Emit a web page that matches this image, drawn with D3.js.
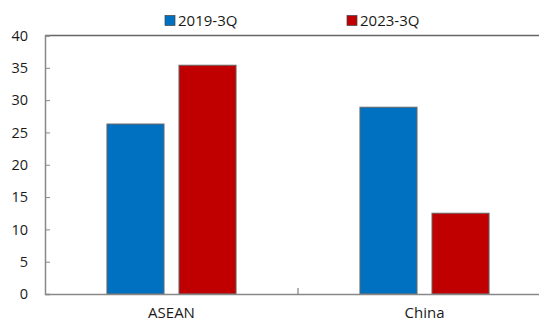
<!DOCTYPE html>
<html><head><meta charset="utf-8">
<script src="https://cdn.jsdelivr.net/npm/d3@7"></script>
<style>body{margin:0;background:#fff}svg{display:block}text{font-family:"Open Sans","Noto Sans",sans-serif}</style>
</head><body>
<script>
const categories = ["ASEAN", "China"];
const seriesNames = ["2019-3Q", "2023-3Q"];
const values2019 = [26.3, 28.9];
const values2023 = [35.4, 12.5];
const yTicks = [0, 5, 10, 15, 20, 25, 30, 35, 40];
const colors = ["#0070C0", "#C00000"];

const W = 539, H = 322;
const m = {left: 45, right: -12, top: 35.5, bottom: 28};
const svg = d3.select("body").append("svg").attr("width", W).attr("height", H);

const x0 = d3.scaleBand().domain(categories).range([m.left, W - m.right]).paddingInner(0).paddingOuter(0);
const x1 = d3.scaleBand().domain(seriesNames).range([0, x0.bandwidth()]).paddingInner(0.208).paddingOuter(0.86);
const y = d3.scaleLinear().domain([0, 40]).range([H - m.bottom, m.top]);

const data = categories.map((c, i) => ({cat: c, vals: [values2019[i], values2023[i]]}));

// top border
svg.append("line").attr("x1", m.left).attr("x2", W - m.right).attr("y1", y(40)).attr("y2", y(40))
  .attr("stroke", "#666").attr("stroke-width", 1.5);

// bars
const g = svg.selectAll("g.grp").data(data).join("g").attr("transform", d => `translate(${x0(d.cat)},0)`);
g.selectAll("rect").data(d => d.vals.map((v, i) => ({s: seriesNames[i], v, i})))
  .join("rect")
  .attr("x", d => x1(d.s)).attr("width", x1.bandwidth())
  .attr("y", d => y(d.v)).attr("height", d => y(0) - y(d.v))
  .attr("fill", d => colors[d.i]).attr("stroke", "#666").attr("stroke-width", 1);

// y axis
const yAxis = d3.axisLeft(y).tickValues(yTicks).tickSize(-5).tickPadding(17);
const ya = svg.append("g").attr("transform", `translate(${m.left},0)`).call(yAxis);
ya.select(".domain").attr("stroke", "#888").attr("stroke-width", 1.5);
ya.selectAll(".tick line").attr("stroke", "#888");
ya.selectAll("text").attr("font-size", 14.5).attr("fill", "#1a1a1a");

// x axis
const xa = svg.append("g").attr("transform", `translate(0,${y(0)})`)
  .call(d3.axisBottom(x0).tickSize(0).tickPadding(13));
xa.select(".domain").attr("stroke", "#888").attr("stroke-width", 1.5);
xa.selectAll("text").attr("font-size", 15).attr("fill", "#1a1a1a");
// separator tick between categories
xa.append("line").attr("x1", x0("China")).attr("x2", x0("China")).attr("y1", 0).attr("y2", -6)
  .attr("stroke", "#666").attr("stroke-width", 1);

// legend
const legX = [165, 347];
const leg = svg.selectAll("g.leg").data(seriesNames).join("g").attr("transform", (d, i) => `translate(${legX[i]},15)`);
leg.append("rect").attr("width", 10).attr("height", 10).attr("y", 0.5).attr("fill", (d, i) => colors[i]).attr("stroke", "#444").attr("stroke-width", 0.7);
leg.append("text").attr("x", 13).attr("y", 10.5).attr("font-size", 15).attr("fill", "#1a1a1a").text(d => d);
</script>
</body></html>
